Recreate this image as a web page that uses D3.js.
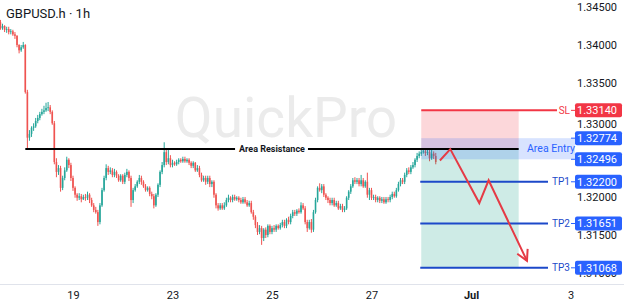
<!DOCTYPE html>
<html><head><meta charset="utf-8">
<script src="https://cdn.jsdelivr.net/npm/d3@7/dist/d3.min.js"></script>
<style>
html,body{margin:0;padding:0;background:#fff;}
svg{display:block;font-family:Roboto,"Noto Sans",sans-serif;}
</style></head><body>
<svg id="chart" width="624" height="305"></svg>
<script>
const title = "GBPUSD.h · 1h";
const watermark = "QuickPro";
const firstOpen = 1.3430;
const closes = [1.3422,1.3425,1.3420,1.3421,1.3417,1.3418,1.3414,1.3412,1.3400,1.3393,
1.3397,1.3400,1.3338,1.3278,1.3283,1.3291,1.3293,1.3300,1.3304,1.3309,
1.3312,1.3314,1.3317,1.3318,1.3312,1.3297,1.3246,1.3233,1.3238,1.3212,
1.3225,1.3235,1.3249,1.3242,1.3225,1.3212,1.3203,1.3199,1.3201,1.3197,
1.3200,1.3199,1.3203,1.3196,1.3189,1.3183,1.3180,1.3167,1.3189,1.3209,
1.3225,1.3238,1.3233,1.3235,1.3229,1.3233,1.3228,1.3222,1.3228,1.3220,
1.3229,1.3233,1.3225,1.3196,1.3209,1.3214,1.3220,1.3225,1.3220,1.3214,
1.3209,1.3212,1.3204,1.3201,1.3189,1.3203,1.3216,1.3233,1.3242,1.3259,
1.3246,1.3251,1.3242,1.3245,1.3243,1.3246,1.3249,1.3247,1.3250,1.3247,
1.3249,1.3245,1.3241,1.3245,1.3235,1.3238,1.3229,1.3222,1.3225,1.3220,
1.3225,1.3217,1.3220,1.3203,1.3189,1.3185,1.3189,1.3185,1.3189,1.3196,
1.3199,1.3196,1.3200,1.3197,1.3199,1.3196,1.3193,1.3197,1.3193,1.3189,
1.3192,1.3180,1.3174,1.3163,1.3154,1.3159,1.3146,1.3157,1.3150,1.3162,
1.3154,1.3159,1.3157,1.3162,1.3159,1.3163,1.3167,1.3162,1.3170,1.3167,
1.3175,1.3180,1.3178,1.3182,1.3180,1.3189,1.3185,1.3167,1.3159,1.3167,
1.3157,1.3180,1.3196,1.3212,1.3209,1.3214,1.3203,1.3199,1.3196,1.3192,
1.3196,1.3189,1.3192,1.3185,1.3188,1.3183,1.3185,1.3199,1.3207,1.3214,
1.3222,1.3220,1.3222,1.3217,1.3222,1.3214,1.3220,1.3203,1.3209,1.3199,
1.3200,1.3196,1.3199,1.3195,1.3197,1.3193,1.3197,1.3196,1.3200,1.3204,
1.3201,1.3209,1.3217,1.3222,1.3220,1.3229,1.3235,1.3233,1.3239,1.3242,
1.3249,1.3254,1.3257,1.3259,1.3260,1.3258,1.3259,1.3251,1.3257,1.3254,
1.3246];
const highs = [1.3433,1.3428,1.3426,1.3424,1.3424,1.3421,1.3420,1.3417,1.3413,1.3401,
1.3400,1.3404,1.3401,1.3341,1.3288,1.3293,1.3297,1.3304,1.3308,1.3312,
1.3316,1.3320,1.3324,1.3325,1.3321,1.3314,1.3300,1.3251,1.3242,1.3241,
1.3228,1.3239,1.3253,1.3251,1.3245,1.3228,1.3214,1.3205,1.3205,1.3204,
1.3203,1.3204,1.3207,1.3205,1.3199,1.3192,1.3187,1.3183,1.3192,1.3212,
1.3228,1.3243,1.3241,1.3239,1.3238,1.3237,1.3235,1.3230,1.3230,1.3230,
1.3232,1.3237,1.3235,1.3228,1.3212,1.3217,1.3222,1.3229,1.3228,1.3222,
1.3217,1.3214,1.3214,1.3207,1.3204,1.3205,1.3218,1.3235,1.3246,1.3272,
1.3264,1.3262,1.3255,1.3249,1.3247,1.3249,1.3251,1.3251,1.3253,1.3253,
1.3251,1.3251,1.3247,1.3247,1.3246,1.3242,1.3241,1.3232,1.3228,1.3228,
1.3228,1.3228,1.3222,1.3222,1.3205,1.3192,1.3192,1.3192,1.3193,1.3199,
1.3203,1.3201,1.3203,1.3203,1.3201,1.3201,1.3199,1.3200,1.3200,1.3196,
1.3195,1.3195,1.3183,1.3176,1.3167,1.3163,1.3162,1.3159,1.3160,1.3164,
1.3164,1.3162,1.3163,1.3164,1.3164,1.3166,1.3170,1.3170,1.3172,1.3174,
1.3178,1.3183,1.3183,1.3184,1.3185,1.3193,1.3192,1.3188,1.3170,1.3170,
1.3171,1.3183,1.3199,1.3214,1.3218,1.3217,1.3217,1.3205,1.3201,1.3199,
1.3199,1.3199,1.3195,1.3195,1.3191,1.3191,1.3188,1.3201,1.3209,1.3217,
1.3225,1.3226,1.3225,1.3225,1.3229,1.3225,1.3222,1.3232,1.3212,1.3212,
1.3203,1.3203,1.3201,1.3201,1.3200,1.3200,1.3200,1.3200,1.3203,1.3207,
1.3207,1.3212,1.3220,1.3225,1.3225,1.3232,1.3238,1.3239,1.3242,1.3246,
1.3251,1.3258,1.3260,1.3262,1.3263,1.3263,1.3263,1.3262,1.3262,1.3260,
1.3258];
const lows = [1.3420,1.3420,1.3417,1.3416,1.3414,1.3414,1.3412,1.3408,1.3397,1.3389,
1.3391,1.3395,1.3336,1.3264,1.3274,1.3279,1.3287,1.3291,1.3297,1.3301,
1.3307,1.3309,1.3312,1.3313,1.3309,1.3295,1.3243,1.3226,1.3229,1.3207,
1.3209,1.3222,1.3233,1.3238,1.3221,1.3208,1.3199,1.3195,1.3196,1.3193,
1.3196,1.3195,1.3196,1.3192,1.3187,1.3180,1.3178,1.3162,1.3164,1.3187,
1.3207,1.3222,1.3229,1.3230,1.3226,1.3226,1.3225,1.3220,1.3220,1.3217,
1.3217,1.3226,1.3221,1.3187,1.3192,1.3207,1.3212,1.3217,1.3216,1.3212,
1.3207,1.3207,1.3201,1.3197,1.3185,1.3187,1.3200,1.3213,1.3230,1.3239,
1.3242,1.3243,1.3239,1.3239,1.3241,1.3241,1.3243,1.3245,1.3245,1.3245,
1.3245,1.3242,1.3238,1.3238,1.3233,1.3233,1.3226,1.3220,1.3220,1.3216,
1.3217,1.3213,1.3213,1.3199,1.3185,1.3182,1.3183,1.3183,1.3183,1.3187,
1.3193,1.3193,1.3193,1.3195,1.3195,1.3193,1.3191,1.3191,1.3191,1.3187,
1.3187,1.3178,1.3170,1.3159,1.3150,1.3151,1.3137,1.3142,1.3146,1.3147,
1.3151,1.3151,1.3154,1.3154,1.3157,1.3157,1.3160,1.3159,1.3159,1.3164,
1.3164,1.3172,1.3175,1.3175,1.3178,1.3178,1.3183,1.3164,1.3154,1.3157,
1.3153,1.3154,1.3178,1.3193,1.3207,1.3205,1.3200,1.3196,1.3192,1.3189,
1.3189,1.3187,1.3187,1.3183,1.3183,1.3180,1.3180,1.3183,1.3196,1.3204,
1.3212,1.3217,1.3217,1.3214,1.3214,1.3212,1.3212,1.3199,1.3196,1.3196,
1.3196,1.3193,1.3193,1.3192,1.3192,1.3191,1.3191,1.3193,1.3193,1.3197,
1.3199,1.3199,1.3207,1.3214,1.3217,1.3217,1.3226,1.3230,1.3230,1.3237,
1.3239,1.3246,1.3251,1.3254,1.3257,1.3254,1.3255,1.3247,1.3249,1.3250,
1.3243];
const dateLabels = ["19","23","25","27","Jul","3"];
const dateIndex = [35,83,131,179,227,275];
const priceTicks = [1.345,1.340,1.335,1.330,1.325,1.320,1.315,1.310];
const resistancePrice = 1.3263;
const resistanceFrom = 12, resistanceTo = 250;
const resistanceLabel = "Area Resistance";
const setupStart = 203, setupEnd = 250;
const entryPrice = 1.3263;
const slPrice = 1.33140;
const tpNames = ["TP1","TP2","TP3"];
const tpPrices = [1.32200, 1.31651, 1.31068];
const areaEntryLabel = "Area Entry";
const areaEntryTop = 1.32774, areaEntryBottom = 1.32496;
const arrowIndex = [212,217,231,235.5,254];
const arrowPrice = [1.3248,1.3263,1.3192,1.3222,1.3116];

// ---- drawing ----
const svg = d3.select("#chart");
const W = 624, H = 305, plotBottom = 284, axisX = 567;
const x = d3.scaleLinear().domain([0, 275]).range([0.44, 570.5]);
const y = d3.scaleLinear().domain([1.30855, 1.34592]).range([plotBottom, 0]);
const UP = "#26a69a", DOWN = "#ef5350", BLUE = "#2962ff", TPBLUE = "#1c49c9", RED = "#f23645";

svg.append("rect").attr("width", W).attr("height", H).attr("fill", "#fff");

// watermark
svg.append("text").attr("x", 286).attr("y", 137).attr("text-anchor", "middle")
  .attr("font-size", 55).attr("fill", "#ebebeb").text(watermark);

// candles
const candles = closes.map((c, i) => {
  const o = i === 0 ? firstOpen : closes[i - 1];
  return {i, o, c, h: Math.max(highs[i], o, c), l: Math.min(lows[i], o, c)};
});
const cg = svg.append("g");
cg.selectAll("line.w").data(candles).join("line")
  .attr("x1", d => x(d.i)).attr("x2", d => x(d.i))
  .attr("y1", d => y(d.h)).attr("y2", d => y(d.l))
  .attr("stroke", d => d.c >= d.o ? UP : DOWN).attr("stroke-width", 1);
cg.selectAll("rect").data(candles).join("rect")
  .attr("x", d => x(d.i) - 0.8).attr("width", 1.6)
  .attr("y", d => y(Math.max(d.o, d.c)))
  .attr("height", d => Math.max(0.8, Math.abs(y(d.o) - y(d.c))))
  .attr("fill", d => d.c >= d.o ? UP : DOWN);

// zones
svg.append("rect").attr("x", x(setupStart)).attr("width", x(setupEnd) - x(setupStart))
  .attr("y", y(slPrice)).attr("height", y(entryPrice) - y(slPrice))
  .attr("fill", "rgba(242,54,69,0.2)");
svg.append("rect").attr("x", x(setupStart)).attr("width", x(setupEnd) - x(setupStart))
  .attr("y", y(entryPrice)).attr("height", y(tpPrices[2]) - y(entryPrice))
  .attr("fill", "rgba(8,153,129,0.2)");
svg.append("rect").attr("x", x(setupStart)).attr("width", 575 - x(setupStart))
  .attr("y", y(areaEntryTop)).attr("height", y(areaEntryBottom) - y(areaEntryTop))
  .attr("fill", "rgba(41,98,255,0.18)");
svg.append("text").attr("x", 527).attr("y", y((areaEntryTop + areaEntryBottom) / 2))
  .attr("dy", "0.35em").attr("font-size", 10.5).attr("fill", BLUE).text(areaEntryLabel);

// resistance line with label
const rl = svg.append("text").attr("x", 272).attr("y", y(resistancePrice)).attr("dy", "0.35em")
  .attr("text-anchor", "middle").attr("font-size", 9).attr("font-weight", "bold")
  .attr("fill", "#131722").text(resistanceLabel);
const tw = rl.node().getComputedTextLength();
[[x(resistanceFrom), 272 - tw / 2 - 4], [272 + tw / 2 + 3, x(resistanceTo)]].forEach(s => {
  svg.append("line").attr("x1", s[0]).attr("x2", s[1])
    .attr("y1", y(resistancePrice)).attr("y2", y(resistancePrice))
    .attr("stroke", "#000").attr("stroke-width", 2);
});

// SL / TP lines
svg.append("line").attr("x1", x(setupStart)).attr("x2", 557)
  .attr("y1", y(slPrice)).attr("y2", y(slPrice)).attr("stroke", RED).attr("stroke-width", 2);
svg.append("text").attr("x", 570).attr("y", y(slPrice)).attr("dy", "0.35em")
  .attr("text-anchor", "end").attr("font-size", 10).attr("fill", RED).text("SL");
tpPrices.forEach((p, k) => {
  svg.append("line").attr("x1", x(setupStart) - 1).attr("x2", 548)
    .attr("y1", y(p)).attr("y2", y(p)).attr("stroke", TPBLUE).attr("stroke-width", 2);
  svg.append("text").attr("x", 570).attr("y", y(p)).attr("dy", "0.35em")
    .attr("text-anchor", "end").attr("font-size", 10).attr("fill", TPBLUE).text(tpNames[k]);
});

// red projected path
const pts = arrowIndex.map((d, k) => [x(d), y(arrowPrice[k])]);
svg.append("path").attr("d", d3.line()(pts)).attr("fill", "none")
  .attr("stroke", "#e53a45").attr("stroke-width", 2).attr("stroke-linejoin", "miter");
const tip = pts[pts.length - 1], prev = pts[pts.length - 2];
const ang = Math.atan2(tip[1] - prev[1], tip[0] - prev[0]);
const head = [ang + Math.PI - 0.5, ang + Math.PI + 0.5].map(a => [tip[0] + 12 * Math.cos(a), tip[1] + 12 * Math.sin(a)]);
svg.append("path").attr("d", d3.line()([head[0], tip, head[1]])).attr("fill", "none")
  .attr("stroke", "#e53a45").attr("stroke-width", 2);

// bottom axis
svg.append("line").attr("x1", 0).attr("x2", W).attr("y1", plotBottom + 0.5).attr("y2", plotBottom + 0.5)
  .attr("stroke", "#e0e3eb");
const xa = svg.append("g").attr("transform", `translate(0,${plotBottom})`)
  .call(d3.axisBottom(x).tickValues(dateIndex).tickFormat((d, i) => dateLabels[i]).tickSize(0).tickPadding(7));
xa.select(".domain").remove();
xa.selectAll("text").attr("font-size", 11).attr("font-family", "Roboto").attr("fill", "#131722")
  .attr("font-weight", (d, i) => dateLabels[i] === "Jul" ? "bold" : "normal");

// price axis
const ya = svg.append("g").attr("transform", "translate(617,0)")
  .call(d3.axisLeft(y).tickValues(priceTicks).tickFormat(d3.format(".5f")).tickSize(0).tickPadding(0));
ya.select(".domain").remove();
ya.selectAll("text").attr("font-size", 11).attr("font-family", "Roboto").attr("fill", "#131722")
  .attr("dy", d => (d === 1.330 ? "0.55em" : "0.32em"));

// price labels
const boxes = [[slPrice, RED], [areaEntryTop, BLUE], [areaEntryBottom, BLUE]]
  .concat(tpPrices.map(p => [p, BLUE]));
boxes.forEach(([p, col]) => {
  svg.append("line").attr("x1", 571).attr("x2", 575).attr("y1", y(p)).attr("y2", y(p))
    .attr("stroke", col).attr("stroke-width", 1);
  svg.append("rect").attr("x", axisX + 8).attr("y", y(p) - 7).attr("width", 47).attr("height", 14)
    .attr("rx", 2).attr("fill", col);
  svg.append("text").attr("x", 617).attr("y", y(p)).attr("dy", "0.35em").attr("text-anchor", "end")
    .attr("font-size", 11).attr("fill", "#fff").text(d3.format(".5f")(p));
});

// title
svg.append("text").attr("x", 6).attr("y", 18).attr("font-size", 13).attr("fill", "#131722").text(title);
</script>
</body></html>
